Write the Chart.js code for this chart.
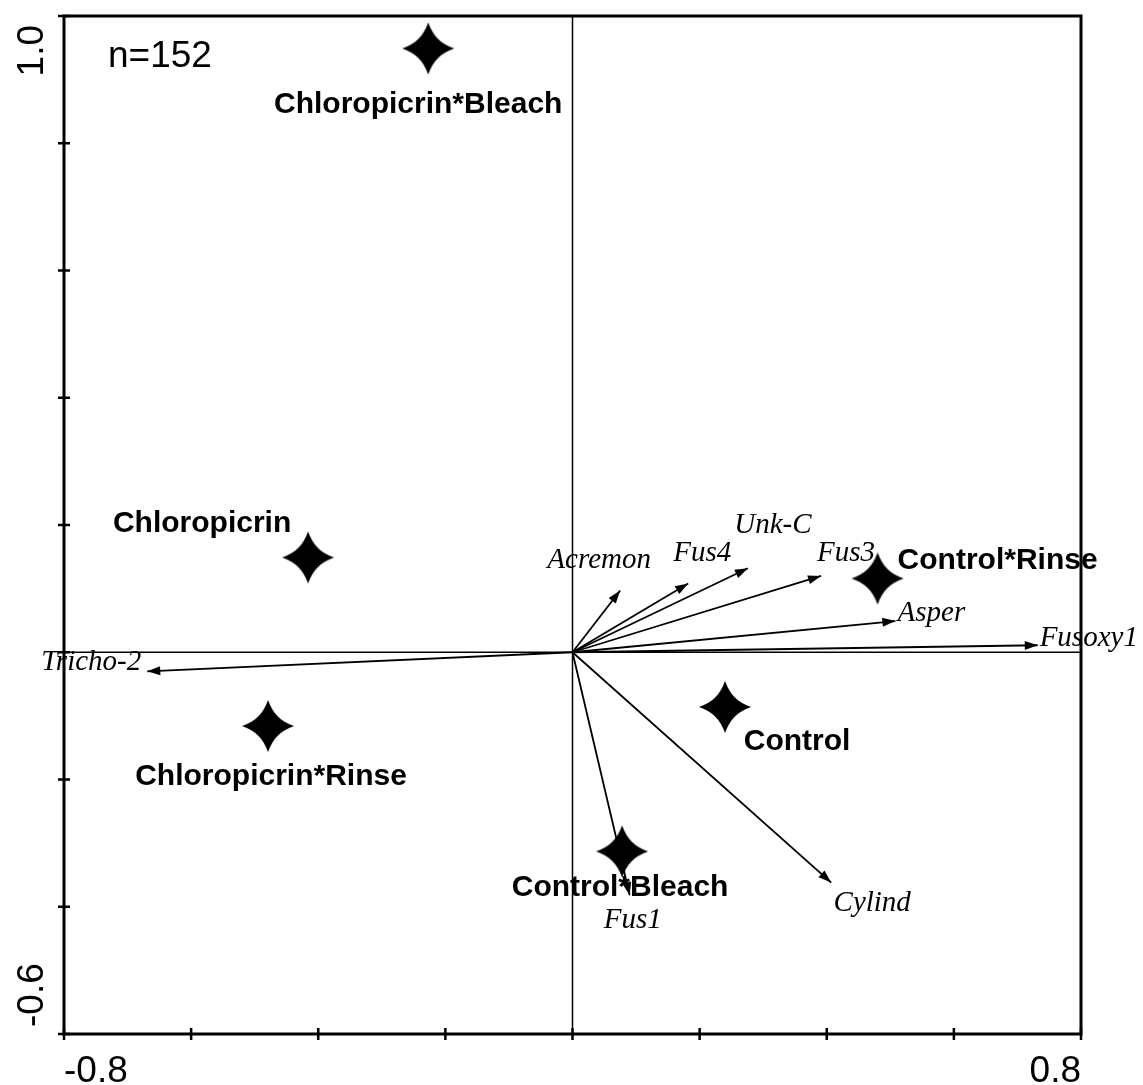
<!DOCTYPE html>
<html>
<head>
<meta charset="utf-8">
<title>Ordination biplot</title>
<script src="https://cdn.jsdelivr.net/npm/chart.js@4.4.0/dist/chart.umd.min.js"></script>
<style>
    html, body { margin: 0; padding: 0; background: #fff; }
    #wrap { width: 1143px; height: 1085px; }
</style>
</head>
<body>
<div id="wrap"><canvas id="biplot" width="1143" height="1085"></canvas></div>
<script>
// treatment centroids (stars)
var treatments = ["Chloropicrin*Bleach", "Chloropicrin", "Chloropicrin*Rinse", "Control", "Control*Rinse", "Control*Bleach"];
var treatmentX = [-0.227, -0.416, -0.479, 0.240, 0.480, 0.078];
var treatmentY = [0.949, 0.149, -0.116, -0.086, 0.116, -0.313];

// species vectors (arrows from origin)
var species = ["Acremon", "Fus4", "Unk-C", "Fus3", "Asper", "Fusoxy1", "Tricho-2", "Fus1", "Cylind"];
var speciesX = [0.075, 0.182, 0.276, 0.391, 0.508, 0.732, -0.669, 0.090, 0.407];
var speciesY = [0.097, 0.108, 0.132, 0.120, 0.049, 0.011, -0.030, -0.382, -0.362];

// axes
var xTicks = [-0.8, -0.6, -0.4, -0.2, 0, 0.2, 0.4, 0.6, 0.8];
var yTicks = [-0.6, -0.4, -0.2, 0, 0.2, 0.4, 0.6, 0.8, 1.0];
var xTickLabels = ["-0.8", "", "", "", "", "", "", "", "0.8"];
var yTickLabels = ["-0.6", "", "", "", "", "", "", "", "1.0"];
var sampleNote = "n=152";

// label placement, pixels from the mark
var treatmentLabelDx = [-10, -106, 3, 72, 120, -2];
var treatmentLabelDy = [56, -34, 51, 35, -18, 36];
var speciesLabelDx = [-21, 14, 25, 25, 36, 51, -56, 3, 41];
var speciesLabelDy = [-30, -30, -43, -23, -8, -7, -9, 25, 21];

function makeStar(r) {
    var c = document.createElement('canvas');
    c.width = 2 * r + 2;
    c.height = 2 * r + 2;
    var g = c.getContext('2d');
    var m = r + 1;
    var p = 0.2 * r, q = 0.46 * r;
    g.beginPath();
    g.moveTo(m, m - r);
    g.bezierCurveTo(m + p, m - q, m + q, m - p, m + r, m);
    g.bezierCurveTo(m + q, m + p, m + p, m + q, m, m + r);
    g.bezierCurveTo(m - p, m + q, m - q, m + p, m - r, m);
    g.bezierCurveTo(m - q, m - p, m - p, m - q, m, m - r);
    g.closePath();
    g.fillStyle = '#000';
    g.fill();
    return c;
}

var datasets = [];
for (var i = 0; i < species.length; i++) {
    datasets.push({
        label: species[i],
        data: [{ x: 0, y: 0 }, { x: speciesX[i], y: speciesY[i] }],
        showLine: true,
        borderColor: '#000',
        borderWidth: 1.8,
        pointRadius: 0
    });
}
var starPoints = [];
for (var j = 0; j < treatments.length; j++) {
    starPoints.push({ x: treatmentX[j], y: treatmentY[j] });
}
datasets.push({
    label: "treatments",
    data: starPoints,
    pointStyle: makeStar(26),
    pointRadius: 26
});

var biplotDecor = {
    id: 'biplotDecor',
    beforeDatasetsDraw: function (chart) {
        var ctx = chart.ctx, a = chart.chartArea;
        var x = chart.scales.x, y = chart.scales.y;
        ctx.save();
        ctx.strokeStyle = '#000';
        ctx.lineWidth = 1.5;
        ctx.beginPath();
        ctx.moveTo(a.left, y.getPixelForValue(0));
        ctx.lineTo(a.right, y.getPixelForValue(0));
        ctx.moveTo(x.getPixelForValue(0), a.top);
        ctx.lineTo(x.getPixelForValue(0), a.bottom);
        ctx.stroke();
        ctx.restore();
    },
    afterDatasetsDraw: function (chart) {
        var ctx = chart.ctx, a = chart.chartArea;
        var x = chart.scales.x, y = chart.scales.y;
        ctx.save();
        ctx.fillStyle = '#000';
        ctx.strokeStyle = '#000';

        // arrow heads
        var ox = x.getPixelForValue(0), oy = y.getPixelForValue(0);
        for (var i = 0; i < species.length; i++) {
            var tx = x.getPixelForValue(speciesX[i]), ty = y.getPixelForValue(speciesY[i]);
            var ang = Math.atan2(ty - oy, tx - ox);
            ctx.save();
            ctx.translate(tx, ty);
            ctx.rotate(ang);
            ctx.beginPath();
            ctx.moveTo(0, 0);
            ctx.lineTo(-13, -4.5);
            ctx.lineTo(-13, 4.5);
            ctx.closePath();
            ctx.fill();
            ctx.restore();
        }

        ctx.textAlign = 'center';
        ctx.textBaseline = 'middle';
        ctx.font = 'italic 29px "Liberation Serif", "DejaVu Serif", serif';
        for (var s = 0; s < species.length; s++) {
            ctx.fillText(species[s],
                x.getPixelForValue(speciesX[s]) + speciesLabelDx[s],
                y.getPixelForValue(speciesY[s]) + speciesLabelDy[s]);
        }
        ctx.font = 'bold 30px "Liberation Sans", Arial, sans-serif';
        for (var t = 0; t < treatments.length; t++) {
            ctx.fillText(treatments[t],
                x.getPixelForValue(treatmentX[t]) + treatmentLabelDx[t],
                y.getPixelForValue(treatmentY[t]) + treatmentLabelDy[t]);
        }
        ctx.font = '37px "Liberation Sans", Arial, sans-serif';
        ctx.textAlign = 'left';
        ctx.fillText(sampleNote, a.left + 44, a.top + 41);
        ctx.restore();
    },
    afterDraw: function (chart) {
        var ctx = chart.ctx, a = chart.chartArea;
        var x = chart.scales.x, y = chart.scales.y;
        ctx.save();
        ctx.strokeStyle = '#000';
        ctx.fillStyle = '#000';
        ctx.lineWidth = 3;
        ctx.strokeRect(a.left, a.top, a.right - a.left, a.bottom - a.top);

        ctx.lineWidth = 2.5;
        ctx.beginPath();
        for (var i = 0; i < xTicks.length; i++) {
            var px = x.getPixelForValue(xTicks[i]);
            ctx.moveTo(px, a.bottom - 6);
            ctx.lineTo(px, a.bottom + 6);
        }
        for (var k = 0; k < yTicks.length; k++) {
            var py = y.getPixelForValue(yTicks[k]);
            ctx.moveTo(a.left - 6, py);
            ctx.lineTo(a.left + 6, py);
        }
        ctx.stroke();

        ctx.font = '37px "Liberation Sans", Arial, sans-serif';
        ctx.textBaseline = 'alphabetic';
        for (var m = 0; m < xTicks.length; m++) {
            if (!xTickLabels[m]) continue;
            ctx.textAlign = m === 0 ? 'left' : (m === xTicks.length - 1 ? 'right' : 'center');
            ctx.fillText(xTickLabels[m], x.getPixelForValue(xTicks[m]), a.bottom + 48);
        }
        for (var n = 0; n < yTicks.length; n++) {
            if (!yTickLabels[n]) continue;
            ctx.save();
            ctx.translate(a.left - 21, y.getPixelForValue(yTicks[n]));
            ctx.rotate(-Math.PI / 2);
            ctx.textAlign = n === 0 ? 'left' : (n === yTicks.length - 1 ? 'right' : 'center');
            ctx.fillText(yTickLabels[n], n === 0 ? 7 : -9, 0);
            ctx.restore();
        }
        ctx.restore();
    }
};

var ctx = document.getElementById("biplot").getContext("2d");
var biplot = new Chart(ctx, {
    type: "scatter",
    data: { datasets: datasets },
    options: {
        responsive: false,
        animation: false,
        layout: { autoPadding: false, padding: { left: 64, top: 16, right: 62, bottom: 51 } },
        plugins: {
            legend: { display: false },
            tooltip: { enabled: false }
        },
        scales: {
            x: { type: 'linear', min: -0.8, max: 0.8, display: false },
            y: { type: 'linear', min: -0.6, max: 1.0, display: false }
        }
    },
    plugins: [biplotDecor]
});
</script>
</body>
</html>
